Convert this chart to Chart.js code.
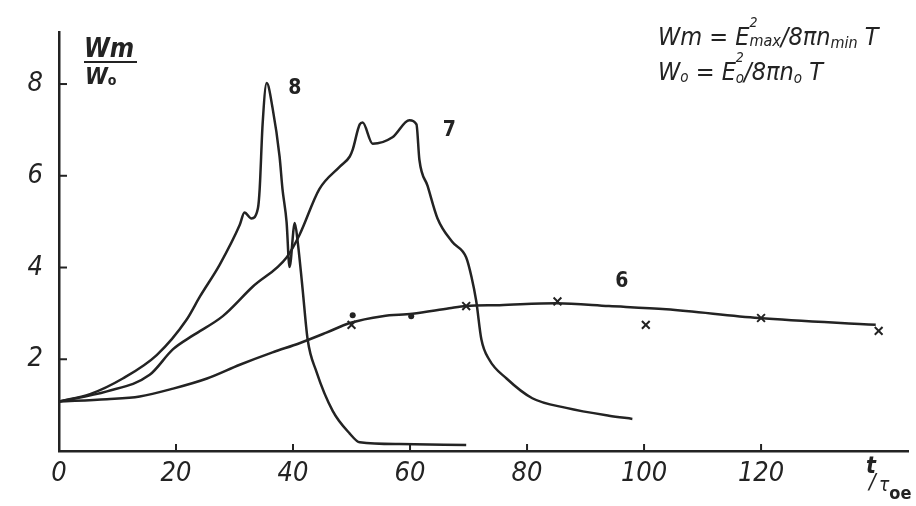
<!DOCTYPE html>
<html>
<head>
<meta charset="utf-8">
<script src="https://cdn.jsdelivr.net/npm/chart.js"></script>
<style>
  html, body { margin: 0; padding: 0; background: #fff; }
  #wrap { width: 916px; height: 506px; }
</style>
</head>
<body>
<div id="wrap"><canvas id="chart1" width="916" height="506"></canvas></div>
<script>
// values (x = t/tau_oe, y = Wm/W0)
const curve8X = [0, 5.3, 10.9, 16.7, 21.8, 24.1, 27.5, 30.9, 31.7, 32.9, 34.0, 34.3, 34.8, 35.5, 36.5, 37.7, 38.2, 38.9, 39.4, 40.3, 40.8, 41.6, 42.5, 44.0, 46.8, 49.7, 51.4, 58.2, 69.6];
const curve8Y = [1.08, 1.24, 1.58, 2.09, 2.86, 3.37, 4.07, 4.93, 5.20, 5.07, 5.29, 5.71, 7.12, 8.02, 7.48, 6.42, 5.71, 4.99, 4.01, 4.97, 4.56, 3.58, 2.43, 1.73, 0.87, 0.38, 0.19, 0.15, 0.13];

const curve7X = [0, 8.2, 15.5, 19.5, 22.9, 28.0, 33.1, 38.9, 41.1, 44.5, 48.0, 49.7, 50.2, 51.4, 51.9, 53.6, 57.0, 59.9, 61.1, 61.6, 63.0, 64.7, 67.2, 69.6, 70.5, 71.3, 72.2, 73.5, 76.5, 80.9, 86.7, 94.0, 98.0];
const curve7Y = [1.08, 1.30, 1.66, 2.22, 2.52, 2.94, 3.58, 4.22, 4.71, 5.71, 6.20, 6.42, 6.57, 7.12, 7.16, 6.70, 6.84, 7.21, 7.12, 6.35, 5.78, 5.07, 4.56, 4.22, 3.80, 3.28, 2.43, 2.00, 1.58, 1.15, 0.94, 0.77, 0.70];

const curve6X = [0, 8.2, 13.8, 19.5, 25.3, 30.9, 36.5, 41.1, 45.7, 49.7, 55.3, 60.4, 66.7, 69.6, 75.3, 85.0, 94.0, 103.8, 119.6, 139.6];
const curve6Y = [1.08, 1.13, 1.19, 1.36, 1.58, 1.88, 2.15, 2.35, 2.58, 2.79, 2.94, 2.99, 3.11, 3.16, 3.18, 3.22, 3.16, 3.09, 2.90, 2.75];

const crossX = [50.0, 69.6, 85.2, 100.3, 120.0, 140.1];
const crossY = [2.75, 3.16, 3.26, 2.75, 2.90, 2.62];
const dotX = [50.2, 60.2];
const dotY = [2.96, 2.94];

const xTicks = [0, 20, 40, 60, 80, 100, 120];
const yTicks = [2, 4, 6, 8];

const curveLabels = [
    { text: '8', x: 40.3, y: 7.91 },
    { text: '7', x: 66.7, y: 6.99 },
    { text: '6', x: 96.2, y: 3.69 }
];

const ink = '#232323';
const handFont = '"DejaVu Sans Condensed", "Liberation Sans Narrow", "Liberation Sans", sans-serif';

function pairs(xs, ys) {
    return xs.map((x, i) => ({ x: x, y: ys[i] }));
}

// draws a row of text pieces, small ones shifted up or down
function runText(c, x, y, parts) {
    parts.forEach(p => {
        c.font = (p.w || 'italic') + ' ' + p.s + 'px ' + handFont;
        c.fillText(p.t, x, y + (p.dy || 0));
        if (!p.keep) x += c.measureText(p.t).width;
    });
}

const decorations = {
    id: 'decorations',
    afterDraw(chart) {
        const c = chart.ctx;
        const xs = chart.scales.x;
        const ys = chart.scales.y;
        const left = chart.chartArea.left;
        const bottom = chart.chartArea.bottom;
        c.save();
        c.strokeStyle = ink;
        c.fillStyle = ink;
        c.lineWidth = 2;

        // inward tick marks
        yTicks.forEach(v => {
            const py = ys.getPixelForValue(v);
            c.beginPath();
            c.moveTo(left, py);
            c.lineTo(left + 8, py);
            c.stroke();
        });
        xTicks.slice(1).forEach(v => {
            const px = xs.getPixelForValue(v);
            c.beginPath();
            c.moveTo(px, bottom);
            c.lineTo(px, bottom - 7);
            c.stroke();
        });

        // curve numbers
        c.textAlign = 'center';
        c.textBaseline = 'middle';
        c.font = 'bold 21px ' + handFont;
        curveLabels.forEach(l => {
            c.fillText(l.text, xs.getPixelForValue(l.x), ys.getPixelForValue(l.y));
        });

        c.textAlign = 'left';
        c.textBaseline = 'alphabetic';

        // y title as a fraction
        runText(c, 84, 57, [{ t: 'Wm', s: 26, w: 'italic bold' }]);
        c.beginPath();
        c.moveTo(84, 62);
        c.lineTo(137, 62);
        c.stroke();
        runText(c, 85, 84, [{ t: 'W', s: 23, w: 'italic bold' }, { t: 'o', s: 14, dy: 1, w: 'bold' }]);

        // x title t/tau_oe
        runText(c, 866, 473, [{ t: 't', s: 23, w: 'italic bold' }]);
        runText(c, 869, 489, [{ t: '/', s: 22 }]);
        runText(c, 879, 491, [{ t: 'τ', s: 19 }, { t: 'oe', s: 18, dy: 8, w: 'bold' }]);

        // formulas top right
        runText(c, 658, 45, [
            { t: 'Wm', s: 25 }, { t: ' = ', s: 25 }, { t: 'E', s: 25 },
            { t: '2', s: 14, dy: -18, keep: true }, { t: 'max', s: 16, dy: 1 },
            { t: '/8πn', s: 25 }, { t: 'min', s: 16, dy: 3 }, { t: ' T', s: 25 }
        ]);
        runText(c, 658, 80, [
            { t: 'W', s: 25 }, { t: 'o', s: 15, dy: 2 }, { t: ' = ', s: 25 }, { t: 'E', s: 25 },
            { t: '2', s: 14, dy: -18, keep: true }, { t: 'o', s: 15, dy: 3 },
            { t: '/8πn', s: 25 }, { t: 'o', s: 15, dy: 3 }, { t: ' T', s: 25 }
        ]);
        c.restore();
    }
};

document.addEventListener("DOMContentLoaded", function() {
    const ctx1 = document.getElementById('chart1').getContext('2d');
    const curveStyle = {
        borderColor: ink,
        borderWidth: 2.5,
        pointRadius: 0,
        fill: false,
        cubicInterpolationMode: 'monotone'
    };
    new Chart(ctx1, {
        type: 'line',
        data: {
            datasets: [
                Object.assign({ label: '8', data: pairs(curve8X, curve8Y) }, curveStyle),
                Object.assign({ label: '7', data: pairs(curve7X, curve7Y) }, curveStyle),
                Object.assign({ label: '6', data: pairs(curve6X, curve6Y) }, curveStyle),
                {
                    label: 'crosses',
                    data: pairs(crossX, crossY),
                    showLine: false,
                    pointStyle: 'crossRot',
                    pointRadius: 5.5,
                    pointBorderWidth: 2,
                    borderColor: ink
                },
                {
                    label: 'dots',
                    data: pairs(dotX, dotY),
                    showLine: false,
                    pointStyle: 'circle',
                    pointRadius: 3,
                    pointBorderWidth: 0,
                    backgroundColor: ink,
                    borderColor: ink
                }
            ]
        },
        options: {
            responsive: false,
            animation: false,
            layout: { padding: { top: 23, right: 6, left: 0, bottom: 0 } },
            plugins: {
                legend: { display: false },
                tooltip: { enabled: false }
            },
            scales: {
                x: {
                    type: 'linear',
                    min: 0,
                    max: 145.2,
                    afterBuildTicks: function(scale) {
                        scale.ticks = xTicks.map(v => ({ value: v }));
                    },
                    afterFit: function(scale) { scale.height = 55; },
                    grid: { display: false, drawTicks: false },
                    border: { display: true, width: 2.5, color: ink },
                    ticks: {
                        padding: 7,
                        color: ink,
                        maxRotation: 0,
                        font: { family: handFont, size: 27, style: 'italic' }
                    }
                },
                y: {
                    min: 0,
                    max: 9.13,
                    afterBuildTicks: function(scale) {
                        scale.ticks = yTicks.map(v => ({ value: v }));
                    },
                    afterFit: function(scale) { scale.width = 59; },
                    grid: { display: false, drawTicks: false },
                    border: { display: true, width: 2.5, color: ink },
                    ticks: {
                        padding: 16,
                        color: ink,
                        font: { family: handFont, size: 27, style: 'italic' }
                    }
                }
            }
        },
        plugins: [decorations]
    });
});
</script>
</body>
</html>
